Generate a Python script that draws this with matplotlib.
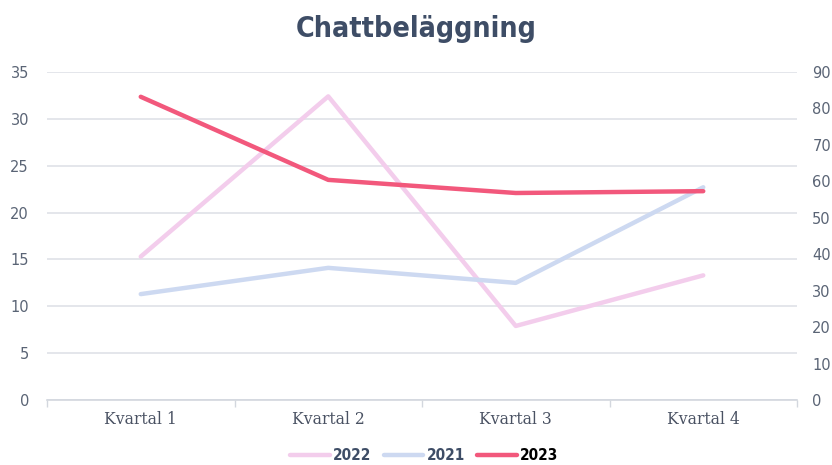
import numpy as np
import matplotlib
matplotlib.use("Agg")
from matplotlib import pyplot as plt
from matplotlib.ticker import FixedLocator

# data
kvartal = ["Kvartal 1", "Kvartal 2", "Kvartal 3", "Kvartal 4"]
v2022 = [15.3, 32.4, 7.9, 13.3]   # left axis
v2021 = [11.3, 14.1, 12.5, 22.7]  # left axis
v2023 = [83.2, 60.4, 56.8, 57.3]  # right axis

left_ticks = [0, 5, 10, 15, 20, 25, 30, 35]
right_ticks = [0, 10, 20, 30, 40, 50, 60, 70, 80, 90]

c2022 = "#f3cdec"
c2021 = "#cdd9f1"
c2023 = "#f2587c"
title_col = "#3e4d66"
grid_col = "#dfe2e8"
tick_col = "#5a6475"

fig = plt.figure(figsize=(8.32, 4.65), dpi=100)
ax = fig.add_axes([47 / 832, 65 / 465, 750 / 832, 328 / 465])
ax2 = ax.twinx()

x = np.arange(len(kvartal))
l1, = ax.plot(x, v2022, color=c2022, lw=3.2, solid_capstyle="round", zorder=3)
l2, = ax.plot(x, v2021, color=c2021, lw=3.2, solid_capstyle="round", zorder=3)
l3, = ax2.plot(x, v2023, color=c2023, lw=3.2, solid_capstyle="round", zorder=4)

ax.set_xlim(-0.5, 3.5)
ax.set_ylim(0, 35)
ax2.set_ylim(0, 90)
ax.set_yticks(left_ticks)
ax2.set_yticks(right_ticks)
ax.set_xticks(x)
ax.set_xticklabels(kvartal, fontfamily="DejaVu Serif", fontstretch="condensed",
                   fontsize=12.5, color="#4a5263")
ax.xaxis.set_minor_locator(FixedLocator([-0.5, 0.5, 1.5, 2.5, 3.5]))
ax.tick_params(axis="x", which="major", length=0, pad=8)
ax.tick_params(axis="x", which="minor", length=5, color="#d3d7de", width=1)
ax.tick_params(axis="y", length=0, pad=13, labelsize=10.5, labelcolor=tick_col)
ax2.tick_params(axis="y", length=0, pad=11, labelsize=10.5, labelcolor=tick_col)

ax.grid(axis="y", color=grid_col, lw=1.2)
ax.set_axisbelow(True)
for a in (ax, ax2):
    for s in a.spines.values():
        s.set_visible(False)
ax.spines["bottom"].set_visible(True)
ax.spines["bottom"].set_color("#d3d7de")
ax.spines["bottom"].set_linewidth(1.2)

fig.text(0.5, 0.937, "Chattbeläggning", ha="center", va="center",
         fontsize=20.5, fontweight="bold", fontstretch="condensed",
         color=title_col, family="DejaVu Sans")

leg = fig.legend([l1, l2, l3], ["2022", "2021", "2023"], loc="lower center",
                 bbox_to_anchor=(0.51, -0.025), ncol=3, frameon=False,
                 handlelength=2.6, columnspacing=0.8, handletextpad=0.2,
                 prop={"family": "DejaVu Sans", "weight": "bold",
                       "stretch": "condensed", "size": 11})
for t, c in zip(leg.get_texts(), [title_col, title_col, "black"]):
    t.set_color(c)

fig.savefig("out.png", dpi=100)
